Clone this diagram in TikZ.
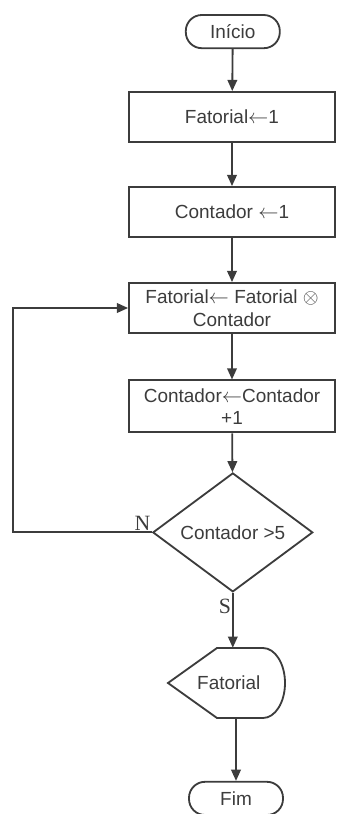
\documentclass[tikz,border=0pt]{standalone}
\usepackage{fontspec}
\setmainfont{Liberation Sans}
\newfontfamily\labelfont{Liberation Serif}
\usetikzlibrary{shapes.geometric, arrows.meta, calc}
\definecolor{inkgray}{RGB}{60, 60, 60}

\begin{document}
\begin{tikzpicture}[
    font=\fontsize{13.5}{16}\selectfont,
    line/.style={draw=inkgray, line width=1.3pt},
    box/.style={line, text=inkgray, minimum width=5.15cm, minimum height=1.25cm, align=center, inner sep=1pt},
    term/.style={line, text=inkgray, rounded corners=4mm, minimum width=2.35cm, minimum height=0.83cm},
    decision/.style={line, text=inkgray, diamond, minimum width=4cm, minimum height=2.97cm, inner sep=0pt},
    arrow/.style={line, -{Triangle[length=2.8mm, width=2.4mm]}},
    yesno/.style={text=inkgray, font=\labelfont\fontsize{15.5}{17}\selectfont}
]
    \useasboundingbox (0,0) rectangle (8.425,-20.35);

    % Start
    \node[term] (inicio) at (5.82,-0.79) {Início};

    % Initialisation
    \node[box] (fat1) at (5.8,-2.925) {Fatorial$\leftarrow$1};
    \node[box] (cont1) at (5.8,-5.3) {Contador $\leftarrow$1};

    % Loop body
    \node[box] (fatmul) at (5.8,-7.7) {Fatorial$\leftarrow$ Fatorial $\otimes$\\Contador};
    \node[box, minimum height=1.3cm] (continc) at (5.8,-10.16) {Contador$\leftarrow$Contador\\+1};

    % Test
    \node[decision] (dec) at (5.82,-13.31) {Contador >5};

    % Output
    \node[text=inkgray, minimum width=2.9cm, minimum height=1.75cm] (out) at (5.72,-17.075) {Fatorial};
    \draw[line] ($(out.center)+(-1.52,0)$) -- ($(out.center)+(-0.295,0.875)$)
        -- ($(out.center)+(0.855,0.875)$)
        arc[start angle=90, end angle=-90, x radius=0.55, y radius=0.875]
        -- ($(out.center)+(-0.295,-0.875)$) -- cycle;

    % End
    \node[term] (fim) at (5.9,-19.96) {Fim};

    % Arrows
    \draw[arrow] (inicio) -- (fat1);
    \draw[arrow] (fat1) -- (cont1);
    \draw[arrow] (cont1) -- (fatmul);
    \draw[arrow] (fatmul) -- (continc);
    \draw[arrow] (continc) -- (dec);
    \draw[arrow] (dec.south) -- (dec.south |- out.north);
    \draw[arrow] (out.south -| fim.north) -- (fim.north);

    % Back to the loop
    \coordinate (loop) at (0.325,-13.31);
    \draw[arrow] (dec.west) -- (dec.west -| loop) |- (fatmul.west);

    % Labels
    \node[yesno] (n) at (3.56,-13.08) {N};
    \node[yesno] (s) at (5.625,-15.16) {S};
\end{tikzpicture}
\end{document}
